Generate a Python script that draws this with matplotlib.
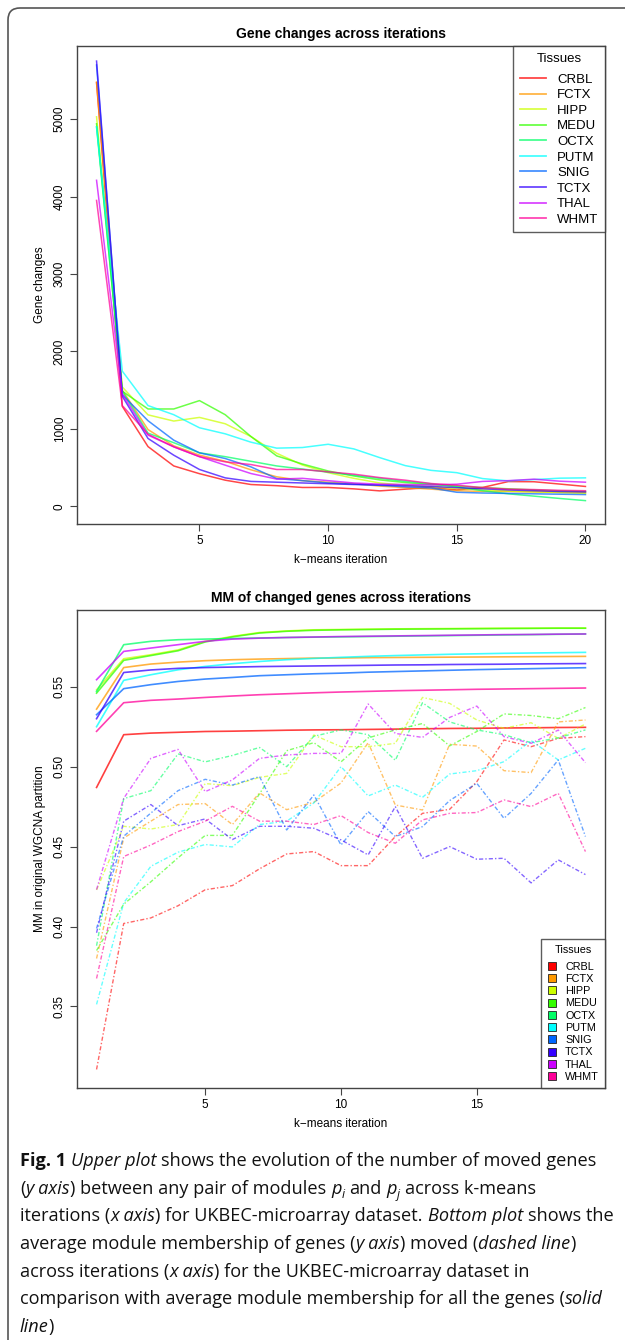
import numpy as np
import matplotlib
matplotlib.use("Agg")
import matplotlib.pyplot as plt
from matplotlib.lines import Line2D
from matplotlib.patches import FancyBboxPatch
from matplotlib.transforms import IdentityTransform

# ---- data ----
tissues = ["CRBL", "FCTX", "HIPP", "MEDU", "OCTX", "PUTM", "SNIG", "TCTX", "THAL", "WHMT"]
colors = ["#FF0000", "#FF9900", "#CCFF00", "#33FF00", "#00FF66",
          "#00FFFF", "#0066FF", "#3300FF", "#CC00FF", "#FF0099"]

iters_top = np.arange(1, 21)
changes_crbl = [5470, 1290, 770, 520, 420, 336, 280, 265, 242, 242, 224, 198, 220, 242, 210, 242, 318, 316, 286, 255]
changes_fctx = [5480, 1500, 990, 780, 660, 580, 470, 380, 330, 310, 290, 260, 240, 220, 200, 190, 190, 185, 180, 175]
changes_hipp = [5030, 1540, 1180, 1100, 1147, 1065, 900, 684, 532, 433, 360, 300, 270, 250, 230, 210, 195, 185, 175, 165]
changes_medu = [4940, 1485, 1256, 1256, 1364, 1182, 900, 650, 545, 455, 390, 340, 305, 280, 260, 240, 225, 210, 198, 190]
changes_octx = [4900, 1485, 944, 820, 690, 640, 580, 520, 480, 440, 400, 360, 320, 290, 250, 200, 160, 130, 100, 72]
changes_putm = [4900, 1745, 1300, 1182, 1013, 935, 827, 750, 758, 800, 740, 628, 524, 463, 433, 357, 327, 344, 362, 366]
changes_snig = [5700, 1440, 1104, 853, 689, 616, 508, 357, 330, 300, 285, 270, 250, 235, 180, 170, 165, 160, 155, 150]
changes_tctx = [5750, 1420, 875, 659, 474, 366, 320, 310, 300, 290, 280, 275, 265, 255, 240, 225, 210, 200, 190, 185]
changes_thal = [4210, 1450, 918, 767, 640, 530, 422, 350, 360, 330, 300, 285, 280, 275, 284, 320, 330, 349, 323, 310]
changes_whmt = [3950, 1300, 930, 767, 640, 573, 538, 474, 474, 444, 414, 370, 336, 293, 271, 240, 220, 215, 205, 200]

iters_mm = np.arange(1, 20)
# average MM of all genes (solid)
mm_all_crbl = [0.487, 0.520, 0.521, 0.5215, 0.522, 0.5222, 0.5225, 0.5228, 0.523, 0.5231, 0.5233, 0.5235, 0.5237, 0.5239, 0.524, 0.5242, 0.5243, 0.5245, 0.5246]
mm_all_fctx = [0.536, 0.562, 0.5642, 0.5654, 0.5663, 0.5669, 0.5673, 0.5676, 0.5679, 0.568, 0.5682, 0.5683, 0.5684, 0.5685, 0.5686, 0.5687, 0.5688, 0.5689, 0.569]
mm_all_hipp = [0.548, 0.5675, 0.570, 0.573, 0.5784, 0.5815, 0.5839, 0.5849, 0.5856, 0.5858, 0.586, 0.5862, 0.5863, 0.5864, 0.5865, 0.5866, 0.5866, 0.5867, 0.5867]
mm_all_medu = [0.546, 0.5665, 0.5695, 0.5725, 0.578, 0.5812, 0.5836, 0.5847, 0.5853, 0.5856, 0.5858, 0.586, 0.5861, 0.5862, 0.5863, 0.5864, 0.5865, 0.5866, 0.5866]
mm_all_octx = [0.547, 0.5763, 0.5784, 0.5794, 0.5798, 0.5802, 0.5805, 0.5808, 0.581, 0.5812, 0.5814, 0.5816, 0.5818, 0.582, 0.5822, 0.5824, 0.5826, 0.5828, 0.583]
mm_all_putm = [0.525, 0.554, 0.5575, 0.5606, 0.5627, 0.5644, 0.5658, 0.5669, 0.5677, 0.5684, 0.569, 0.5695, 0.5699, 0.5703, 0.5706, 0.5709, 0.5711, 0.5713, 0.5715]
mm_all_snig = [0.5325, 0.5488, 0.5513, 0.5533, 0.5548, 0.5558, 0.5569, 0.5575, 0.5581, 0.5585, 0.5591, 0.5595, 0.5599, 0.5603, 0.5607, 0.561, 0.5613, 0.5616, 0.5619]
mm_all_tctx = [0.530, 0.5589, 0.5605, 0.5615, 0.562, 0.5623, 0.5626, 0.5628, 0.563, 0.5632, 0.5634, 0.5636, 0.5637, 0.5639, 0.564, 0.5641, 0.5643, 0.5644, 0.5645]
mm_all_thal = [0.5544, 0.5721, 0.5742, 0.5763, 0.5784, 0.5798, 0.5804, 0.5808, 0.5811, 0.5814, 0.5816, 0.5818, 0.582, 0.5822, 0.5824, 0.5826, 0.5827, 0.5829, 0.583]
mm_all_whmt = [0.5221, 0.540, 0.5415, 0.5423, 0.5433, 0.5442, 0.545, 0.5456, 0.5462, 0.5467, 0.5471, 0.5475, 0.5478, 0.5481, 0.5484, 0.5486, 0.5488, 0.549, 0.5492]

# average MM of moved genes (dashed)
mm_mov_crbl = [0.3106, 0.4019, 0.4054, 0.4130, 0.4230, 0.4256, 0.4361, 0.4454, 0.4469, 0.4381, 0.4381, 0.4563, 0.4708, 0.4733, 0.4906, 0.5167, 0.5125, 0.5177, 0.5188]
mm_mov_fctx = [0.380, 0.4554, 0.4659, 0.4763, 0.4769, 0.4638, 0.4836, 0.4731, 0.4777, 0.4898, 0.515, 0.476, 0.4729, 0.514, 0.5129, 0.4975, 0.4963, 0.528, 0.5292]
mm_mov_hipp = [0.4229, 0.4627, 0.4610, 0.4638, 0.4894, 0.4881, 0.4933, 0.4958, 0.5198, 0.5125, 0.5125, 0.5146, 0.5433, 0.5396, 0.5292, 0.524, 0.5275, 0.5177, 0.5267]
mm_mov_medu = [0.385, 0.414, 0.428, 0.443, 0.457, 0.457, 0.483, 0.510, 0.515, 0.503, 0.518, 0.523, 0.527, 0.513, 0.522, 0.533, 0.532, 0.530, 0.537]
mm_mov_octx = [0.388, 0.480, 0.485, 0.508, 0.503, 0.507, 0.512, 0.500, 0.519, 0.523, 0.520, 0.504, 0.540, 0.528, 0.523, 0.520, 0.515, 0.518, 0.523]
mm_mov_putm = [0.3513, 0.4148, 0.4377, 0.4465, 0.4513, 0.4498, 0.4638, 0.4659, 0.4773, 0.500, 0.4817, 0.4885, 0.4808, 0.4954, 0.4975, 0.5031, 0.5163, 0.5042, 0.5115]
mm_mov_snig = [0.3988, 0.4565, 0.4710, 0.4850, 0.4921, 0.4885, 0.4938, 0.4604, 0.4823, 0.451, 0.4719, 0.4563, 0.4625, 0.4788, 0.4896, 0.4677, 0.4833, 0.5042, 0.4563]
mm_mov_tctx = [0.3961, 0.4659, 0.4763, 0.4631, 0.4673, 0.4544, 0.4627, 0.4627, 0.4615, 0.4542, 0.4448, 0.475, 0.4427, 0.450, 0.4421, 0.4427, 0.4273, 0.4417, 0.4325]
mm_mov_thal = [0.4231, 0.4802, 0.5052, 0.5108, 0.4844, 0.4917, 0.5052, 0.5073, 0.5083, 0.5083, 0.5392, 0.5208, 0.5183, 0.5308, 0.5379, 0.5188, 0.5146, 0.5229, 0.5025]
mm_mov_whmt = [0.3675, 0.4438, 0.4510, 0.4594, 0.4659, 0.4752, 0.4659, 0.4659, 0.4638, 0.4694, 0.4588, 0.4521, 0.4667, 0.4708, 0.4713, 0.4792, 0.475, 0.4833, 0.4469]

changes = [changes_crbl, changes_fctx, changes_hipp, changes_medu, changes_octx,
           changes_putm, changes_snig, changes_tctx, changes_thal, changes_whmt]
mm_all = [mm_all_crbl, mm_all_fctx, mm_all_hipp, mm_all_medu, mm_all_octx,
          mm_all_putm, mm_all_snig, mm_all_tctx, mm_all_thal, mm_all_whmt]
mm_mov = [mm_mov_crbl, mm_mov_fctx, mm_mov_hipp, mm_mov_medu, mm_mov_octx,
          mm_mov_putm, mm_mov_snig, mm_mov_tctx, mm_mov_thal, mm_mov_whmt]

W, H = 625, 1340
plt.rcParams['font.family'] = ['Liberation Sans', 'DejaVu Sans']
fig = plt.figure(figsize=(W / 100, H / 100), dpi=100)

# rounded page frame (cut at right/bottom)
frame = FancyBboxPatch((8, -40), 700, H - 8 + 40, boxstyle="round,pad=0,rounding_size=12",
                       transform=IdentityTransform(), fill=False, ec="#555555", lw=1.2)
fig.patches.append(frame)


def px_axes(left, top, right, bottom):
    return fig.add_axes([left / W, 1 - bottom / H, (right - left) / W, (bottom - top) / H])


def r_style(ax):
    for s in ax.spines.values():
        s.set_color("#444444")
        s.set_linewidth(1.0)
    ax.tick_params(direction="out", length=5, width=0.8, color="#444444", labelsize=8.5, pad=3)
    for lab in ax.get_yticklabels():
        lab.set_rotation(90)
        lab.set_va("center")


# ---- upper plot ----
ax1 = px_axes(77, 46, 605, 524)
for vals, c in zip(changes, colors):
    ax1.plot(iters_top, vals, color=c, lw=1.1, alpha=0.72)
ax1.set_xlim(0.24, 20.76)
ax1.set_ylim(-230, 5945)
ax1.set_xticks([5, 10, 15, 20])
ax1.set_yticks([0, 1000, 2000, 3000, 4000, 5000])
r_style(ax1)
ax1.set_title("Gene changes across iterations", fontsize=10, fontweight="bold", pad=6)
ax1.set_xlabel("k\u2212means iteration", fontsize=8.5, labelpad=5)
ax1.set_ylabel("Gene changes", fontsize=8.5, labelpad=6)
h1 = [Line2D([], [], color=c, lw=1.3, alpha=0.72) for c in colors]
leg1 = ax1.legend(h1, tissues, title="Tissues", loc="upper right", borderaxespad=0,
                  fontsize=9.5, title_fontsize=9.5, frameon=True, fancybox=False,
                  edgecolor="#333333", handlelength=2.0, handletextpad=0.85,
                  labelspacing=0.25, borderpad=0.5)
leg1.get_frame().set_linewidth(1.0)
leg1._legend_box.sep = 6.5

# ---- lower plot ----
ax2 = px_axes(77, 610, 605, 1088)
for vals, c in zip(mm_all, colors):
    ax2.plot(iters_mm, vals, color=c, lw=1.2, alpha=0.75)
for vals, c in zip(mm_mov, colors):
    ax2.plot(iters_mm, vals, color=c, lw=1.0, alpha=0.6, ls=(0, (3, 1.5, 1, 1.5)))
ax2.set_xlim(0.28, 19.72)
ax2.set_ylim(0.299, 0.598)
ax2.set_xticks([5, 10, 15])
ax2.set_yticks([0.35, 0.40, 0.45, 0.50, 0.55])
ax2.set_yticklabels(["0.35", "0.40", "0.45", "0.50", "0.55"])
r_style(ax2)
ax2.set_title("MM of changed genes across iterations", fontsize=10, fontweight="bold", pad=6)
ax2.set_xlabel("k\u2212means iteration", fontsize=8.5, labelpad=5)
ax2.set_ylabel("MM in original WGCNA partition", fontsize=8.5, labelpad=6)
h2 = [Line2D([], [], marker="s", ls="none", markersize=6, markerfacecolor=c,
             markeredgecolor="#222222", markeredgewidth=0.6) for c in colors]
leg2 = ax2.legend(h2, tissues, title="Tissues", loc="lower right", borderaxespad=0,
                  fontsize=7.8, title_fontsize=7.8, frameon=True, fancybox=False,
                  edgecolor="#333333", handlelength=1.0, handletextpad=0.7,
                  labelspacing=0.21, borderpad=0.55)
leg2.get_frame().set_linewidth(1.0)
leg2._legend_box.sep = 4.5

# ---- caption ----
cap_font = ["Open Sans", "DejaVu Sans"]
renderer = fig.canvas.get_renderer()

cap_lines = [
    [("Fig. 1", "b"), (" ", "n"), ("Upper plot", "i"), (" shows the evolution of the number of moved genes", "n")],
    [("(", "n"), ("y axis", "i"), (") between any pair of modules ", "n"), ("p", "i"), ("i", "s"),
     (" and ", "n"), ("p", "i"), ("j", "s"), (" across k-means", "n")],
    [("iterations (", "n"), ("x axis", "i"), (") for UKBEC-microarray dataset. ", "n"), ("Bottom plot", "i"),
     (" shows the", "n")],
    [("average module membership of genes (", "n"), ("y axis", "i"), (") moved (", "n"),
     ("dashed line", "i"), (")", "n")],
    [("across iterations (", "n"), ("x axis", "i"), (") for the UKBEC-microarray dataset in", "n")],
    [("comparison with average module membership for all the genes (", "n"), ("solid", "i")],
    [("line", "i"), (")", "n")],
]


def run_kw(st, size):
    kw = dict(family=cap_font, fontsize=size, color="#111111")
    dy = 0
    if st == "b":
        kw["fontweight"] = "bold"
    elif st == "i":
        kw["fontstyle"] = "italic"
    elif st == "s":
        kw["fontstyle"] = "italic"
        kw["fontsize"] = size * 0.68
        dy = -4
    return kw, dy


def cap_line(y, runs, size, draw=True):
    sp = fig.text(0, 0, "x x", transform=IdentityTransform(), family=cap_font, fontsize=size)
    sp2 = fig.text(0, 0, "xx", transform=IdentityTransform(), family=cap_font, fontsize=size)
    space_w = sp.get_window_extent(renderer=renderer).width - sp2.get_window_extent(renderer=renderer).width
    sp.remove()
    sp2.remove()
    x = 20
    for txt, st in runs:
        kw, dy = run_kw(st, size)
        core = txt.strip(" ")
        if not core:
            x += len(txt) * space_w
            continue
        x += (len(txt) - len(txt.lstrip(" "))) * space_w
        t = fig.text(x, H - y + dy, core, transform=IdentityTransform(), va="baseline", **kw)
        x += t.get_window_extent(renderer=renderer).width
        if not draw:
            t.remove()
        x += (len(txt) - len(txt.rstrip(" "))) * space_w
    return x


# fit caption size so that the widest line spans the text block width (20..612 px)
base = 12.0
widest = max(cap_line(0, runs, base, draw=False) for runs in cap_lines)
cap_size = base * (612 - 20) / (widest - 20)
for k, runs in enumerate(cap_lines):
    cap_line(1166 + k * 27.7, runs, cap_size)

fig.savefig("out.png", dpi=100)
